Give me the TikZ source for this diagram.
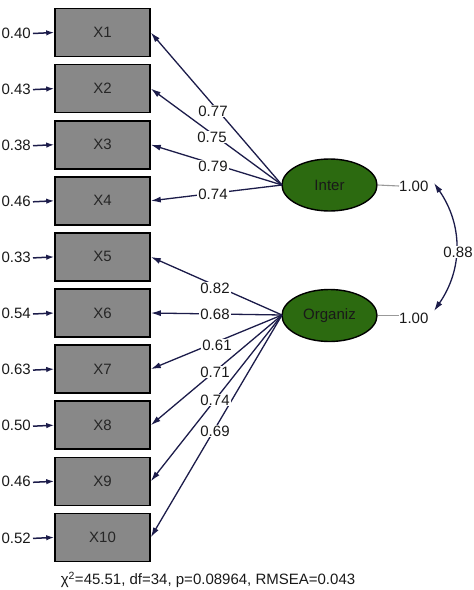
\documentclass[tikz,border=0pt]{standalone}
\usepackage{fontspec}
\setmainfont{Liberation Sans}
\usetikzlibrary{shapes.geometric,arrows.meta}
\definecolor{navy}{HTML}{1C1C4A}
\definecolor{boxgrey}{HTML}{888888}
\definecolor{latgreen}{HTML}{2C6A10}
\begin{document}
\begin{tikzpicture}[x=1pt,y=-1pt,
  font=\fontsize{15}{17}\selectfont,
  obs/.style={draw=black,line width=1.6pt,fill=boxgrey,minimum width=95pt,minimum height=48pt,inner sep=0pt,text=black!85},
  lat/.style={ellipse,draw=black,line width=1.4pt,fill=latgreen,minimum width=95pt,minimum height=52pt,inner sep=0pt,text=black!90},
  arr/.style={draw=navy,line width=1.3pt,-{Latex[length=10pt,width=6pt]}},
  errarr/.style={draw=navy,line width=1.5pt,-{Latex[length=8pt,width=5.5pt]}},
  lab/.style={fill=white,inner sep=1pt,text=black!90},
  errlab/.style={anchor=east,inner sep=0pt,text=black!90},
  var/.style={draw=black!40,line width=1.1pt}]
\useasboundingbox (0,0) rectangle (474,590);
% observed variables
\foreach \i/\e [count=\k from 0] in {1/0.40,2/0.43,3/0.38,4/0.46,5/0.33,6/0.54,7/0.63,8/0.50,9/0.46,10/0.52}{
  \node[obs] (x\i) at (102.5,{32.5+56.1*\k}) {X\i};
  \node[errlab] (e\i) at (31,{33+56.1*\k}) {\e};
  \draw[errarr] (e\i.east) ++(2pt,-0.5pt) -- (x\i.west);
}
% latent variables
\node[lat] (inter) at (329.5,185) {Inter};
\node[lat] (org) at (329.5,315.5) {Organiz};
% loadings
\coordinate (ia) at (282,185);
\coordinate (oa) at (282,315);
\foreach \i in {1,2,3,4}{ \draw[arr] (ia) -- (x\i.east); }
\foreach \i in {5,6,7,8,9,10}{ \draw[arr] (oa) -- (x\i.east); }
\node[lab] (l1) at (213,111) {0.77};
\node[lab] (l2) at (212,137) {0.75};
\node[lab] (l3) at (213,166) {0.79};
\node[lab] (l4) at (213,194) {0.74};
\node[lab] (l5) at (215,288) {0.82};
\node[lab] (l6) at (215,314) {0.68};
\node[lab] (l7) at (217,345) {0.61};
\node[lab] (l8) at (215,372) {0.71};
\node[lab] (l9) at (215,400) {0.74};
\node[lab] (l10) at (215,431) {0.69};
% variances
\node[inner sep=0pt,anchor=west,text=black!90] (v1) at (399,186) {1.00};
\node[inner sep=0pt,anchor=west,text=black!90] (v2) at (399,318) {1.00};
\draw[var] (inter.east) -- (v1.west);
\draw[var] (org.east) -- (org.east -| v2.west);
% covariance
\coordinate (c1) at (434,183);
\coordinate (c2) at (434,311);
\draw[navy,line width=1.3pt,{Latex[length=10pt,width=6pt]}-{Latex[length=10pt,width=6pt]}] (c1) .. controls (463,225) and (463,269) .. (c2);
\node[lab] (cov) at (458,252) {0.88};
% fit
\node[text=black!90] (fit) at (208,580) {χ\textsuperscript{2}=45.51, df=34, p=0.08964, RMSEA=0.043};
\end{tikzpicture}
\end{document}
